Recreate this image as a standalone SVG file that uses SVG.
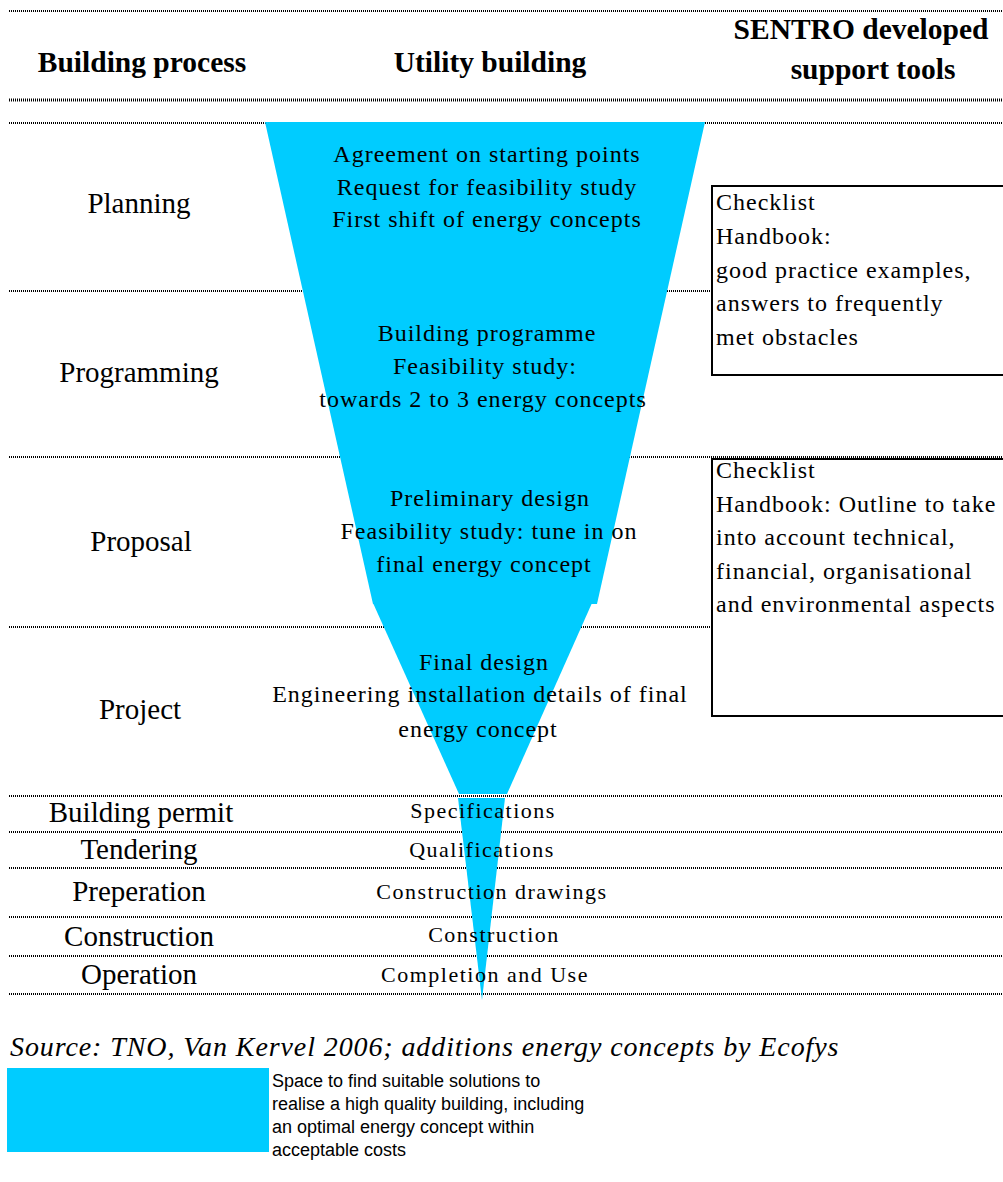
<svg xmlns="http://www.w3.org/2000/svg" width="1003" height="1182" viewBox="0 0 1003 1182">
<style>
.rule{stroke:#000;stroke-width:2;stroke-dasharray:1 1;fill:none}
.thick{stroke-width:3}
.hdr{font-family:"Liberation Serif","Times New Roman",serif;font-weight:bold;font-size:29.5px;text-anchor:middle;fill:#000}
.lbl{font-family:"Liberation Serif","Times New Roman",serif;font-size:29px;text-anchor:middle;fill:#000}
.ft{font-family:"Liberation Serif","Times New Roman",serif;font-size:24px;letter-spacing:1px;text-anchor:middle;fill:#000}
.fs{font-family:"Liberation Serif","Times New Roman",serif;font-size:22px;letter-spacing:1.5px;text-anchor:middle;fill:#000}
.bt{font-family:"Liberation Serif","Times New Roman",serif;font-size:24px;letter-spacing:1px;fill:#000}
.funnel{fill:#00CCFF;stroke:none}
.box{fill:#fff;stroke:#000;stroke-width:2}
.src{font-family:"Liberation Serif","Times New Roman",serif;font-style:italic;font-size:28px;letter-spacing:0.9px;fill:#000}
.leg{font-family:"Liberation Sans",Arial,sans-serif;font-size:18px;fill:#000}
</style>
<rect width="1003" height="1182" fill="#fff"/>
<g id="connectors">
<line class="rule" x1="9" y1="11" x2="1003" y2="11"/>
<line class="rule thick" x1="9" y1="100" x2="1003" y2="100"/>
<line class="rule" x1="9" y1="123" x2="1003" y2="123"/>
<line class="rule" x1="9" y1="291" x2="1003" y2="291"/>
<line class="rule" x1="9" y1="457" x2="1003" y2="457"/>
<line class="rule" x1="9" y1="627" x2="1003" y2="627"/>
<line class="rule" x1="9" y1="796" x2="1003" y2="796"/>
<line class="rule" x1="9" y1="832" x2="1003" y2="832"/>
<line class="rule" x1="9" y1="868" x2="1003" y2="868"/>
<line class="rule" x1="9" y1="917" x2="1003" y2="917"/>
<line class="rule" x1="9" y1="956" x2="1003" y2="956"/>
<line class="rule" x1="9" y1="994" x2="1003" y2="994"/>
</g>
<g id="headers">
<text class="hdr" x="142" y="72">Building process</text>
<text class="hdr" x="490" y="72">Utility building</text>
<text class="hdr" x="861" y="39">SENTRO developed</text>
<text class="hdr" x="873" y="79">support tools</text>
</g>
<g id="funnel">
<polygon class="funnel" points="265,122 705,122 597,604 373,604"/>
<polygon class="funnel" points="373,603 592,603 507,794 459,794"/>
<polygon class="funnel" points="458,798 505,798 482,1000"/>
</g>
<g id="planning">
<text class="lbl" x="139" y="213">Planning</text>
<text class="ft" x="487" y="162">Agreement on starting points</text>
<text class="ft" x="487" y="195">Request for feasibility study</text>
<text class="ft" x="487" y="227">First shift of energy concepts</text>
</g>
<g id="programming">
<text class="lbl" x="139" y="382">Programming</text>
<text class="ft" x="487" y="341">Building programme</text>
<text class="ft" x="485" y="374">Feasibility study:</text>
<text class="ft" x="483" y="407">towards 2 to 3 energy concepts</text>
</g>
<g id="proposal">
<text class="lbl" x="141" y="551">Proposal</text>
<text class="ft" x="490" y="506">Preliminary design</text>
<text class="ft" x="489" y="539">Feasibility study: tune in on</text>
<text class="ft" x="484" y="572">final energy concept</text>
</g>
<g id="project">
<text class="lbl" x="140" y="719">Project</text>
<text class="ft" x="484" y="670">Final design</text>
<text class="ft" x="480" y="702">Engineering installation details of final</text>
<text class="ft" x="478" y="737">energy concept</text>
</g>
<g id="building-permit">
<text class="lbl" x="141" y="822">Building permit</text>
<text class="fs" x="483" y="818">Specifications</text>
</g>
<g id="tendering">
<text class="lbl" x="139" y="859">Tendering</text>
<text class="fs" x="482" y="857">Qualifications</text>
</g>
<g id="preperation">
<text class="lbl" x="139" y="901">Preperation</text>
<text class="fs" x="492" y="899">Construction drawings</text>
</g>
<g id="construction">
<text class="lbl" x="139" y="946">Construction</text>
<text class="fs" x="494" y="942">Construction</text>
</g>
<g id="operation">
<text class="lbl" x="139" y="984">Operation</text>
<text class="fs" x="485" y="982">Completion and Use</text>
</g>
<g id="tools-box-1">
<rect class="box" x="712" y="186" width="320" height="189"/>
<text class="bt" x="716" y="210">Checklist</text>
<text class="bt" x="716" y="244">Handbook:</text>
<text class="bt" x="716" y="278">good practice examples,</text>
<text class="bt" x="716" y="311">answers to frequently</text>
<text class="bt" x="716" y="345">met obstacles</text>
</g>
<g id="tools-box-2">
<rect class="box" x="712" y="459" width="320" height="257"/>
<text class="bt" x="716" y="478">Checklist</text>
<text class="bt" x="716" y="512">Handbook: Outline to take</text>
<text class="bt" x="716" y="545">into account technical,</text>
<text class="bt" x="716" y="579">financial, organisational</text>
<text class="bt" x="716" y="612">and environmental aspects</text>
</g>
<g id="source">
<text class="src" x="10" y="1056">Source: TNO, Van Kervel 2006; additions energy concepts by Ecofys</text>
</g>
<g id="legend">
<rect x="7" y="1068" width="262" height="84" fill="#00CCFF"/>
<text class="leg" x="272" y="1087">Space to find suitable solutions to</text>
<text class="leg" x="272" y="1110">realise a high quality building, including</text>
<text class="leg" x="272" y="1133">an optimal energy concept within</text>
<text class="leg" x="272" y="1156">acceptable costs</text>
</g>
</svg>
